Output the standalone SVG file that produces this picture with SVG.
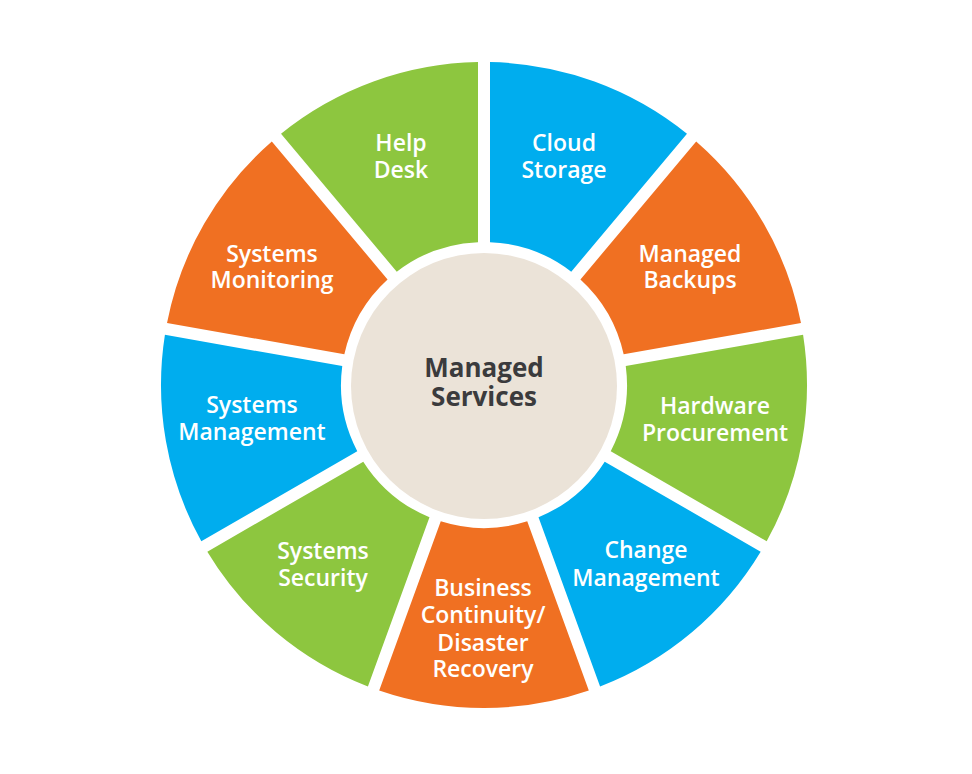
<svg xmlns="http://www.w3.org/2000/svg" xmlns:xlink="http://www.w3.org/1999/xlink" width="972" height="774" viewBox="0 0 972 774">
<defs>
<path id="seg" d="M 6,-322.944 A 323 323 0 0 1 202.989,-251.246 L 87.242,-113.305 A 143 143 0 0 0 6,-142.874 Z"/>
</defs>
<style>
.blue{fill:#00ADEE}
.orange{fill:#F07022}
.green{fill:#8DC63F}
.lbl{font-family:"Open Sans","Noto Sans","DejaVu Sans",sans-serif;font-weight:600;font-size:23px;fill:#ffffff;text-anchor:middle}
.ctr{font-family:"Open Sans","Noto Sans","DejaVu Sans",sans-serif;font-weight:700;font-size:26px;fill:#3B3B3D;text-anchor:middle}
</style>
<rect width="972" height="774" fill="#ffffff"/>
<g id="connectors"></g>
<g id="cloud-storage">
<use xlink:href="#seg" href="#seg" class="blue" transform="translate(484 385) rotate(0)"/>
<text class="lbl"><tspan x="564" y="151">Cloud</tspan><tspan x="564" y="178">Storage</tspan></text>
</g>
<g id="managed-backups">
<use xlink:href="#seg" href="#seg" class="orange" transform="translate(484 385) rotate(40)"/>
<text class="lbl"><tspan x="690" y="262">Managed</tspan><tspan x="690" y="288">Backups</tspan></text>
</g>
<g id="hardware-procurement">
<use xlink:href="#seg" href="#seg" class="green" transform="translate(484 385) rotate(80)"/>
<text class="lbl"><tspan x="715" y="414">Hardware</tspan><tspan x="715" y="441">Procurement</tspan></text>
</g>
<g id="change-management">
<use xlink:href="#seg" href="#seg" class="blue" transform="translate(484 385) rotate(120)"/>
<text class="lbl"><tspan x="646" y="558">Change</tspan><tspan x="646" y="586">Management</tspan></text>
</g>
<g id="business-continuity">
<use xlink:href="#seg" href="#seg" class="orange" transform="translate(484 385) rotate(160)"/>
<text class="lbl"><tspan x="483" y="596">Business</tspan><tspan x="483" y="623">Continuity/</tspan><tspan x="483" y="651">Disaster</tspan><tspan x="483" y="677">Recovery</tspan></text>
</g>
<g id="systems-security">
<use xlink:href="#seg" href="#seg" class="green" transform="translate(484 385) rotate(200)"/>
<text class="lbl"><tspan x="323" y="559">Systems</tspan><tspan x="323" y="586">Security</tspan></text>
</g>
<g id="systems-management">
<use xlink:href="#seg" href="#seg" class="blue" transform="translate(484 385) rotate(240)"/>
<text class="lbl"><tspan x="252" y="413">Systems</tspan><tspan x="252" y="440">Management</tspan></text>
</g>
<g id="systems-monitoring">
<use xlink:href="#seg" href="#seg" class="orange" transform="translate(484 385) rotate(280)"/>
<text class="lbl"><tspan x="272" y="262">Systems</tspan><tspan x="272" y="288">Monitoring</tspan></text>
</g>
<g id="help-desk">
<use xlink:href="#seg" href="#seg" class="green" transform="translate(484 385) rotate(320)"/>
<text class="lbl"><tspan x="401" y="151">Help</tspan><tspan x="401" y="178">Desk</tspan></text>
</g>
<g id="managed-services">
<circle cx="484" cy="386" r="133" fill="#EBE3D8"/>
<text class="ctr"><tspan x="484" y="377">Managed</tspan><tspan x="484" y="406">Services</tspan></text>
</g>
</svg>
